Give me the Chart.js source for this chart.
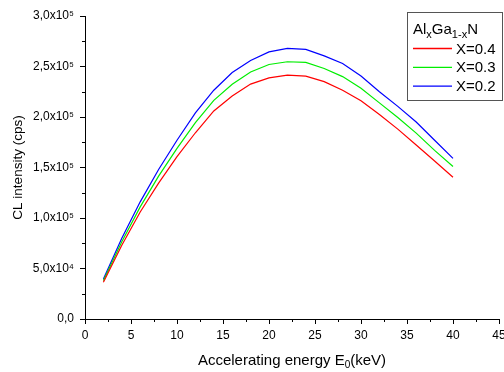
<!DOCTYPE html>
<html>
<head>
<meta charset="utf-8">
<script src="https://cdn.jsdelivr.net/npm/chart.js@4"></script>
<style>
  html, body { margin: 0; padding: 0; background: #fff; }
  #wrap { width: 504px; height: 372px; }
</style>
</head>
<body>
<div id="wrap"><canvas id="chart" width="504" height="372"></canvas></div>
<script>
// beam energy (keV)
const energy = [2, 4, 6, 8, 10, 12, 14, 16, 18, 20, 22, 24, 26, 28, 30, 32, 34, 36, 38, 40];

// CL intensity (cps) for each Al fraction
const x04 = [36400, 73000, 106000, 134500, 160700, 184400, 206000, 220700, 232600, 238800,
             241500, 240500, 235000, 226500, 216000, 202500, 188000, 172300, 156500, 140400];
const x03 = [38000, 76500, 111000, 141500, 169000, 194500, 216500, 232500, 244500, 252000,
             254700, 254000, 248000, 240000, 228500, 214000, 199500, 184000, 167000, 151000];
const x02 = [39500, 80000, 116000, 148000, 177000, 204000, 226500, 244000, 256000, 264500,
             268000, 267000, 260500, 253000, 240500, 225000, 210500, 195000, 177000, 159000];

const seriesLabels = ['X=0.4', 'X=0.3', 'X=0.2'];
const seriesColors = ['#ff0000', '#00ee00', '#0000ff'];

const FONT = '"Liberation Sans", Arial, sans-serif';

const toPoints = (vals) => vals.map((v, i) => ({ x: energy[i], y: v }));

// y tick text like 2,5x10^5
const sup = { '4': '\u2074', '5': '\u2075' };
const yLabel = (v) => {
  if (v === 0) return '0,0';
  const e = Math.floor(Math.log10(v));
  const m = (v / Math.pow(10, e)).toFixed(1).replace('.', ',');
  return m + 'x10' + sup[String(e)];
};

// minor ticks, axis titles and the boxed legend
const extras = {
  id: 'extras',
  afterDraw(chart) {
    const ctx = chart.ctx;
    const xs = chart.scales.x, ys = chart.scales.y;
    const area = chart.chartArea;
    ctx.save();
    ctx.strokeStyle = '#000';
    ctx.lineWidth = 1;
    ctx.beginPath();
    for (let v = 2.5; v < 45; v += 5) {
      const px = Math.round(xs.getPixelForValue(v)) + 0.5;
      ctx.moveTo(px, area.bottom);
      ctx.lineTo(px, area.bottom + 3);
    }
    for (let v = 25000; v < 300000; v += 50000) {
      const py = Math.round(ys.getPixelForValue(v)) + 0.5;
      ctx.moveTo(area.left, py);
      ctx.lineTo(area.left - 3, py);
    }
    ctx.stroke();

    ctx.fillStyle = '#000';
    // x title with subscript
    ctx.font = '15px ' + FONT;
    ctx.textBaseline = 'alphabetic';
    const t1 = 'Accelerating energy E', t2 = '0', t3 = '(keV)';
    const w1 = ctx.measureText(t1).width;
    const w3 = ctx.measureText(t3).width;
    ctx.font = '10px ' + FONT;
    const w2 = ctx.measureText(t2).width;
    const total = w1 + w2 + w3;
    let tx = (area.left + area.right) / 2 - total / 2;
    const ty = 365;
    ctx.font = '15px ' + FONT;
    ctx.fillText(t1, tx, ty);
    ctx.font = '10px ' + FONT;
    ctx.fillText(t2, tx + w1, ty + 3);
    ctx.font = '15px ' + FONT;
    ctx.fillText(t3, tx + w1 + w2, ty);

    // y title
    ctx.save();
    ctx.translate(22, (area.top + area.bottom) / 2);
    ctx.rotate(-Math.PI / 2);
    ctx.textAlign = 'center';
    ctx.font = '13.5px ' + FONT;
    ctx.fillText('CL intensity (cps)', 0, 0);
    ctx.restore();

    // legend box
    ctx.strokeStyle = '#555';
    ctx.strokeRect(407.5, 12.5, 95, 88);
    let lx = 413;
    const parts = [['Al', 15, 0], ['x', 11, 4], ['Ga', 15, 0], ['1-x', 11, 4], ['N', 15, 0]];
    parts.forEach(([s, size, dy]) => {
      ctx.font = size + 'px ' + FONT;
      ctx.fillText(s, lx, 33.5 + dy);
      lx += ctx.measureText(s).width;
    });
    ctx.font = '15px ' + FONT;
    ctx.textBaseline = 'middle';
    chart.data.datasets.forEach((ds, i) => {
      const ly = 48.5 + i * 18.8;
      ctx.strokeStyle = ds.borderColor;
      ctx.lineWidth = 1.3;
      ctx.beginPath();
      ctx.moveTo(413, ly);
      ctx.lineTo(452, ly);
      ctx.stroke();
      ctx.fillText(ds.label, 456, ly + 1);
    });
    ctx.restore();
  }
};

new Chart(document.getElementById('chart'), {
  type: 'line',
  data: {
    datasets: [x04, x03, x02].map((vals, i) => ({
      label: seriesLabels[i],
      data: toPoints(vals),
      borderColor: seriesColors[i],
      backgroundColor: seriesColors[i],
      borderWidth: 1.2,
      pointRadius: 0,
      tension: 0,
      fill: false
    }))
  },
  options: {
    responsive: false,
    animation: false,
    layout: { padding: { top: 16, right: 5, left: 0, bottom: 0 } },
    plugins: { legend: { display: false }, tooltip: { enabled: false } },
    scales: {
      x: {
        type: 'linear',
        min: 0, max: 45,
        ticks: { stepSize: 5, color: '#000', padding: 4, font: { family: FONT, size: 12 }, maxRotation: 0 },
        grid: { drawOnChartArea: false, drawTicks: true, tickLength: 5, tickColor: '#000' },
        border: { color: '#000', width: 1 },
        afterFit(s) { s.height = 53; s.paddingLeft = 0; s.paddingRight = 0; }
      },
      y: {
        min: 0, max: 300000,
        ticks: { stepSize: 50000, color: '#000', padding: 6, font: { family: FONT, size: 12 }, callback: yLabel },
        grid: { drawOnChartArea: false, drawTicks: true, tickLength: 5, tickColor: '#000' },
        border: { color: '#000', width: 1 },
        afterFit(s) { s.width = 85; s.paddingTop = 0; s.paddingBottom = 0; }
      }
    }
  },
  plugins: [extras]
});
</script>
</body>
</html>
